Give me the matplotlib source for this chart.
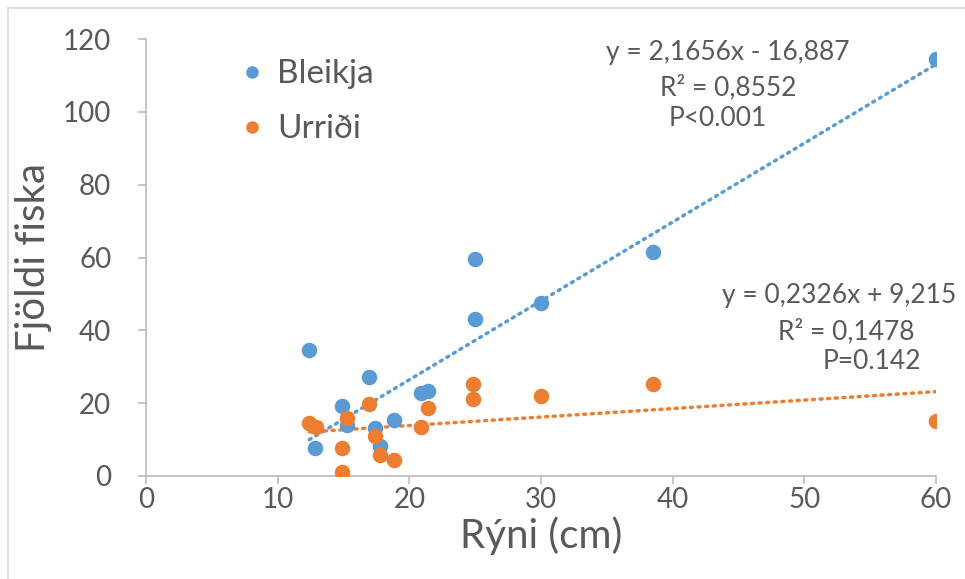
import matplotlib.pyplot as plt
from matplotlib.lines import Line2D
import numpy as np

plt.rcParams['font.family'] = ['Lato', 'DejaVu Sans']

# Bleikja
bleikja_x = [12.4, 12.8, 14.9, 15.3, 16.9, 17.4, 17.8, 18.8, 20.9, 21.4, 25, 25, 30, 38.5, 60]
bleikja_y = [34.6, 7.7, 19.2, 14.0, 27.2, 13.2, 8.2, 15.4, 22.8, 23.4, 59.5, 43, 47.5, 61.5, 114.5]
# Urriði
urridi_x = [12.4, 12.9, 15.3, 14.9, 14.9, 16.9, 17.4, 17.8, 18.8, 20.9, 21.4, 24.8, 24.8, 30, 38.5, 60]
urridi_y = [14.6, 13.5, 15.9, 7.7, 1.1, 19.8, 11.0, 5.8, 4.4, 13.5, 18.7, 25.3, 21.2, 22, 25.3, 15.1]

# trendline coefficients (from the chart labels)
b_slope, b_icpt = 2.1656, -16.887
u_slope, u_icpt = 0.2326, 9.215

blue = '#5B9BD5'
orange = '#ED7D31'
grey_txt = '#595959'
axis_col = '#BFBFBF'

fig = plt.figure(figsize=(9.65, 5.79), dpi=100)
ax = fig.add_axes([146 / 965, 1 - 476 / 579, (936 - 146) / 965, (476 - 39) / 579])

ax.scatter(bleikja_x, bleikja_y, s=125, color=blue, zorder=3, linewidths=0)
ax.scatter(urridi_x, urridi_y, s=125, color=orange, zorder=4, linewidths=0)

xb = np.array([min(bleikja_x), max(bleikja_x)])
ax.plot(xb, b_slope * xb + b_icpt, color=blue, lw=2.5, ls=(0, (0.6, 1.6)),
        dash_capstyle='round', zorder=2)
xu = np.array([min(urridi_x), max(urridi_x)])
ax.plot(xu, u_slope * xu + u_icpt, color=orange, lw=2.5, ls=(0, (0.6, 1.6)),
        dash_capstyle='round', zorder=2)

ax.set_xlim(0, 60)
ax.set_ylim(0, 120)
ax.set_xticks(range(0, 61, 10))
ax.set_yticks(range(0, 121, 20))
for s in ['top', 'right']:
    ax.spines[s].set_visible(False)
for s in ['left', 'bottom']:
    ax.spines[s].set_color(axis_col)
    ax.spines[s].set_linewidth(1.3)
ax.tick_params(colors=axis_col, labelcolor=grey_txt, labelsize=20, length=6, width=1.3)
ax.tick_params(axis='x', pad=2)
ax.tick_params(axis='y', pad=19)

ax.set_xlabel('Rýni (cm)', fontsize=29, color=grey_txt, labelpad=2)
ax.set_ylabel('Fjöldi fiska', fontsize=29, color=grey_txt, labelpad=8)

# equations
eq = dict(transform=ax.transAxes, ha='center', va='center', fontsize=19, color=grey_txt)
ax.text(0.737, 0.968, 'y = 2,1656x - 16,887', **eq)
ax.text(0.737, 0.888, 'R² = 0,8552', **eq)
ax.text(0.724, 0.819, 'P<0.001', **eq)
ax.text(0.878, 0.412, 'y = 0,2326x + 9,215', **eq)
ax.text(0.887, 0.330, 'R² = 0,1478', **eq)
ax.text(0.919, 0.261, 'P=0.142', **eq)

handles = [Line2D([], [], ls='none', marker='o', ms=9, color=blue, mec='none'),
           Line2D([], [], ls='none', marker='o', ms=9, color=orange, mec='none')]
leg = ax.legend(handles, ['Bleikja', 'Urriði'], loc='upper left', bbox_to_anchor=(0.075, 1.022),
                frameon=False, fontsize=24, labelspacing=0.75, handletextpad=0.25,
                handlelength=1.0, labelcolor=grey_txt)

# chart border
fig.add_artist(Line2D([8 / 965, 1], [1 - 8 / 579, 1 - 8 / 579], color='#D9D9D9', lw=1.2))
fig.add_artist(Line2D([8 / 965, 8 / 965], [0, 1 - 8 / 579], color='#D9D9D9', lw=1.2))

fig.savefig('out.png', dpi=100, facecolor='white')
